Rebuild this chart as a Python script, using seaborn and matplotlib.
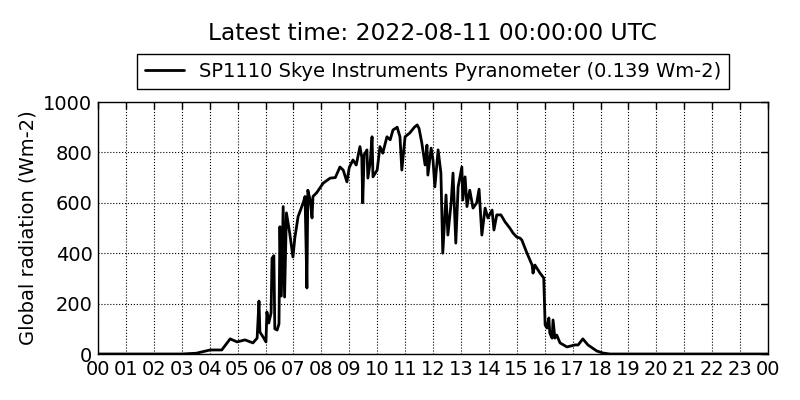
import pandas as pd
import matplotlib
matplotlib.use("Agg")
import matplotlib.pyplot as plt
import matplotlib.dates as mdates
import seaborn as sns

# readings for 2022-08-10 (time of day, global radiation in Wm-2)
day = "2022-08-10"
end_time = "2022-08-11 00:00"
times = ["00:00", "03:00", "03:31", "04:01", "04:26", "04:44", "04:59", "05:16",
         "05:33", "05:42", "05:46", "05:48", "05:55", "06:01", "06:03", "06:07",
         "06:12", "06:14", "06:18", "06:20", "06:25", "06:29", "06:31", "06:34",
         "06:38", "06:41", "06:45", "06:52", "06:59", "07:03", "07:10", "07:21",
         "07:25", "07:29", "07:31", "07:36", "07:40", "07:42", "07:50", "08:04",
         "08:19", "08:30", "08:40", "08:47", "08:55", "09:00", "09:08", "09:15",
         "09:23", "09:27", "09:29", "09:32", "09:38", "09:40", "09:45", "09:49",
         "09:51", "10:00", "10:06", "10:12", "10:21", "10:28", "10:34", "10:43",
         "10:49", "10:53", "11:00", "11:10", "11:20", "11:26", "11:30", "11:36",
         "11:43", "11:47", "11:49", "11:56", "12:00", "12:04", "12:11", "12:17",
         "12:21", "12:28", "12:32", "12:39", "12:43", "12:49", "12:54", "13:02",
         "13:04", "13:09", "13:13", "13:19", "13:26", "13:34", "13:39", "13:45",
         "13:52", "13:58", "14:07", "14:11", "14:17", "14:26", "14:35", "14:45",
         "14:52", "15:00", "15:07", "15:11", "15:22", "15:33", "15:35", "15:39",
         "15:50", "15:58", "16:01", "16:05", "16:09", "16:11", "16:16", "16:18",
         "16:22", "16:26", "16:33", "16:48", "17:05", "17:12", "17:22", "17:33",
         "17:52", "18:05", "18:20"]
radiation = [0, 0, 3, 16, 16, 60, 48, 56,
             44, 63, 210, 87, 67, 48, 167, 123,
             163, 380, 390, 100, 95, 120, 505, 230,
             585, 226, 560, 480, 385, 460, 545, 600,
             625, 262, 650, 610, 540, 625, 640, 678,
             698, 700, 742, 730, 683, 740, 770, 750,
             823, 780, 600, 790, 810, 698, 760, 862,
             703, 730, 823, 797, 862, 850, 889, 900,
             862, 730, 862, 877, 900, 909, 895, 837,
             750, 829, 710, 817, 770, 663, 810, 718,
             400, 631, 472, 600, 718, 440, 663, 742,
             611, 703, 585, 650, 579, 600, 654, 472,
             579, 540, 571, 492, 552, 552, 524, 500,
             480, 464, 460, 452, 400, 353, 321, 353,
             321, 302, 115, 103, 143, 83, 63, 135,
             63, 75, 44, 28, 36, 36, 60, 36,
             12, 4, 0]
end_value = 0
sensor = "SP1110 Skye Instruments Pyranometer (0.139 Wm-2)"
y_ticks = [0, 200, 400, 600, 800, 1000]

stamps = [pd.Timestamp(day + " " + t) for t in times] + [pd.Timestamp(end_time)]
df = pd.DataFrame({"time": stamps, "radiation": radiation + [end_value]})

sns.set_style("white")
plt.rcParams["font.family"] = ["DejaVu Sans"]
plt.rcParams["text.color"] = "black"
plt.rcParams["axes.labelcolor"] = "black"

fig = plt.figure(figsize=(8, 4), dpi=100)
ax = fig.add_axes([0.1225, 0.115, 0.8375, 0.63])

sns.lineplot(data=df, x="time", y="radiation", color="black", linewidth=2,
             label=sensor, ax=ax)

ax.set_xlim(pd.Timestamp(day), pd.Timestamp(end_time))
ax.set_ylim(0, 1000)
ax.set_yticks(y_ticks)
ax.xaxis.set_major_locator(mdates.HourLocator(interval=1))
ax.xaxis.set_major_formatter(mdates.DateFormatter("%H"))
ax.tick_params(direction="in", top=True, right=True, length=5, width=1,
               labelsize=14, colors="black", pad=4)
for s in ax.spines.values():
    s.set_color("black")
    s.set_linewidth(1)
ax.grid(True, color="black", linestyle=":", linewidth=0.8)
ax.set_xlabel("")
ax.set_ylabel("Global radiation (Wm-2)", fontsize=14)

leg = ax.legend(loc="lower center", bbox_to_anchor=(0.5, 1.052), borderaxespad=0,
                fontsize=14, fancybox=False, frameon=True, framealpha=1)
leg.get_frame().set_edgecolor("black")
leg.get_frame().set_linewidth(1)

# title centred over the axes, above the legend
fig.text(0.5411, 0.915, "Latest time: 2022-08-11 00:00:00 UTC", fontsize=16.8,
         ha="center", va="center")

fig.savefig("out.png", dpi=100)
